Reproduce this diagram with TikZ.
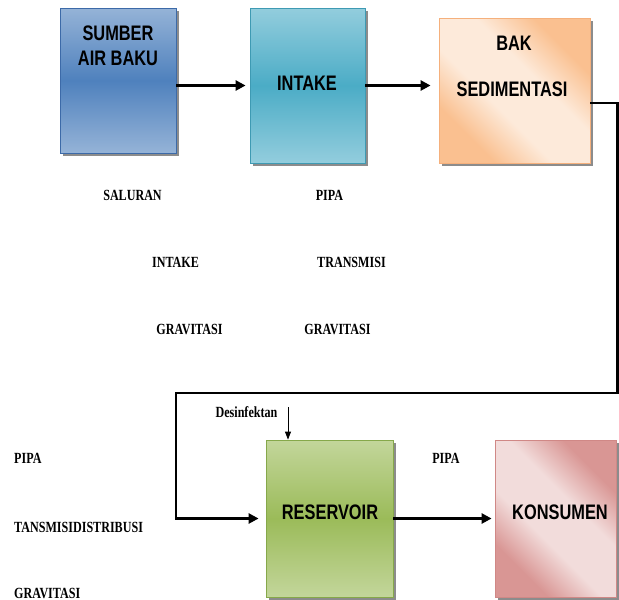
\documentclass[tikz,border=0pt]{standalone}
\usepackage{fontspec}
\usetikzlibrary{arrows.meta,shadows,calc}
\newfontfamily\boxfont{Liberation Sans}[FakeStretch=0.78]
\newfontfamily\lblfont{Liberation Serif}[FakeStretch=0.78]
\definecolor{bL}{HTML}{95B3D7}\definecolor{bD}{HTML}{4F81BD}\definecolor{bB}{HTML}{3C6AA8}
\definecolor{tL}{HTML}{93CDDD}\definecolor{tD}{HTML}{4BACC6}\definecolor{tB}{HTML}{3E9AB3}
\definecolor{gL}{HTML}{C3D69B}\definecolor{gD}{HTML}{9BBB59}\definecolor{gB}{HTML}{86A84A}
\definecolor{oL}{HTML}{FDEADA}\definecolor{oD}{HTML}{FAC090}\definecolor{oB}{HTML}{F5B07C}
\definecolor{pL}{HTML}{F2DCDB}\definecolor{pD}{HTML}{D99694}\definecolor{pB}{HTML}{D08886}
\pgfdeclareverticalshading{diagO}{100bp}{color(0bp)=(oD); color(28bp)=(oD); color(42bp)=(oL); color(58bp)=(oL); color(72bp)=(oD); color(100bp)=(oD)}
\pgfdeclareverticalshading{diagP}{100bp}{color(0bp)=(pD); color(28bp)=(pD); color(42bp)=(pL); color(58bp)=(pL); color(72bp)=(pD); color(100bp)=(pD)}
\tikzset{
  blk/.style={rectangle, inner sep=0pt, line width=0.8pt,
    drop shadow={shadow xshift=3pt, shadow yshift=-3pt, opacity=0.6, fill=black!75}},
  btxt/.style={font=\boxfont\bfseries\fontsize{21}{24}\selectfont, inner sep=0pt, text=black},
  ltxt/.style={font=\lblfont\bfseries\fontsize{15.5}{18}\selectfont, inner sep=0pt, text=black},
  arr/.style={line width=2.6pt, -{Triangle[length=10pt,width=10pt]}},
  thinarr/.style={line width=0.8pt, -{Triangle[length=8pt,width=6pt]}}
}
\begin{document}
\begin{tikzpicture}[x=1pt,y=-1pt]
\useasboundingbox (0,0) rectangle (619,600);
% boxes
\node[blk, draw=bB, top color=bL, bottom color=bL, middle color=bD, minimum width=116pt, minimum height=145pt] (sumber) at (118,80.5) {};
\node[blk, draw=tB, top color=tL, bottom color=tL, middle color=tD, minimum width=115pt, minimum height=155pt] (intake) at (307.5,85.5) {};
\node[blk, draw=oB, shading=diagO, shading angle=-45, minimum width=151pt, minimum height=145pt] (sed) at (514.5,90.5) {};
\node[blk, draw=gB, top color=gL, bottom color=gL, middle color=gD, minimum width=127pt, minimum height=157pt] (res) at (329.5,518.5) {};
\node[blk, draw=pB, shading=diagP, shading angle=-45, minimum width=121pt, minimum height=157pt] (kon) at (555.5,518.5) {};
% box texts
\node[btxt] (t1) at (118,33) {SUMBER};
\node[btxt] (t2) at (118,58) {AIR BAKU};
\node[btxt] (t3) at (307,83) {INTAKE};
\node[btxt] (t4) at (514,43) {BAK};
\node[btxt] (t5) at (512,89) {SEDIMENTASI};
\node[btxt] (t6) at (330,512) {RESERVOIR};
\node[btxt] (t7) at (560,512) {KONSUMEN};
% labels
\node[ltxt] (l1) at (132.5,195) {SALURAN};
\node[ltxt] (l2) at (329.5,195) {PIPA};
\node[ltxt] (l3) at (175.5,262) {INTAKE};
\node[ltxt] (l4) at (351.5,262) {TRANSMISI};
\node[ltxt] (l5) at (189.5,329) {GRAVITASI};
\node[ltxt] (l6) at (337.5,329) {GRAVITASI};
\node[ltxt, anchor=west] (l7) at (14,458) {PIPA};
\node[ltxt, anchor=west] (l8) at (14,527) {TANSMISIDISTRIBUSI};
\node[ltxt, anchor=west] (l9) at (14,593) {GRAVITASI};
\node[ltxt] (l10) at (446,458) {PIPA};
\node[ltxt] (l11) at (246.5,412) {Desinfektan};
% connectors
\draw[arr, shorten >=4pt] (sumber.east |- intake.west) -- (intake.west);
\draw[arr, shorten >=8pt] (intake.east) -- (sed.west |- intake.east);
\coordinate (c0) at ($(sed.east)+(0,12.5)$);
\coordinate (c1) at (617.5,103);
\coordinate (c2) at (617.5,393);
\coordinate (c3) at (176,393);
\coordinate (c4) at (176,518.5);
\draw[arr, shorten >=7pt, line join=miter] (c0) -- (c1) -- (c2) -- (c3) -- (c4) -- (res.west);
\draw[arr, shorten >=3pt] (res.east) -- (kon.west);
\coordinate (d0) at (288,407);
\draw[thinarr] (d0) -- (d0 |- res.north);
\end{tikzpicture}
\end{document}
